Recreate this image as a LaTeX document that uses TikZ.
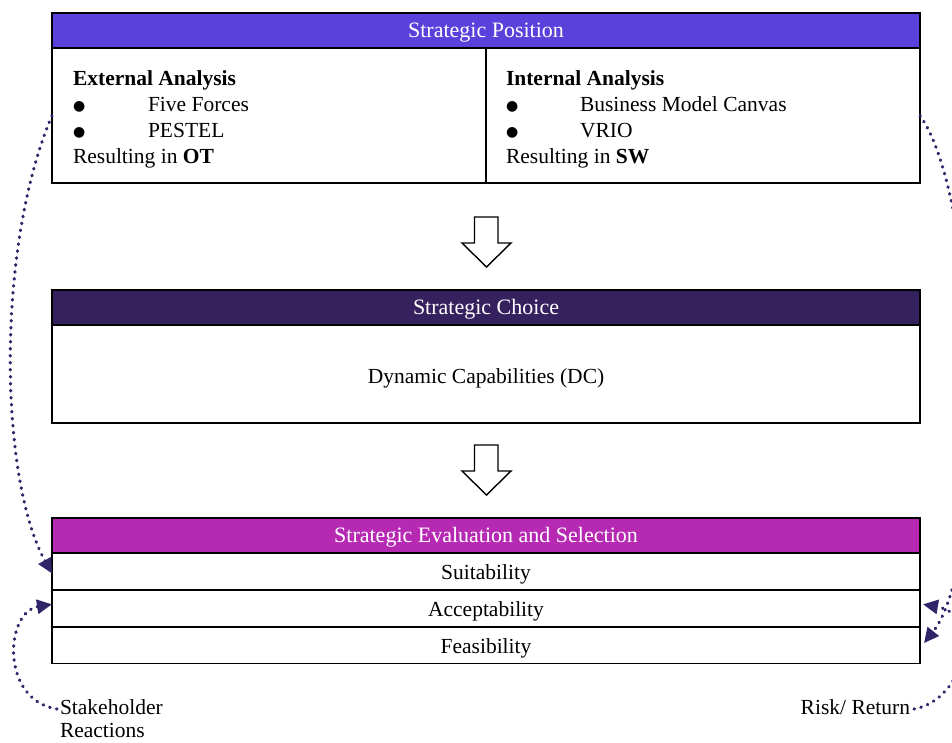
\documentclass[tikz,border=0pt]{standalone}
\usepackage{fontspec}
\setmainfont{Liberation Serif}
\newfontfamily\symfont{DejaVu Sans}
\usetikzlibrary{arrows.meta}
\definecolor{posHeadCol}{HTML}{5B41DC}
\definecolor{choiceHeadCol}{HTML}{35215E}
\definecolor{evalHeadCol}{HTML}{B629B3}
\definecolor{linkCol}{HTML}{2F2568}
\newcommand{\bigbullet}{\raisebox{1pt}{\symfont\fontsize{14}{26}\selectfont ●}}
\begin{document}
\begin{tikzpicture}[x=1pt,y=-1pt,
  every node/.style={font=\fontsize{21.5}{26}\selectfont, inner sep=0pt, outer sep=0pt},
  head/.style={draw=black, line width=1.6pt, minimum width=868pt, minimum height=35pt},
  headtext/.style={text=white, font=\fontsize{22}{26}\selectfont, yshift=-2pt},
  body/.style={draw=black, line width=1.6pt, fill=white},
  rowbox/.style={body, minimum width=868pt, minimum height=36.8pt},
  rowtext/.style={yshift=-3pt},
  line/.style={anchor=base west},
  hollow/.style={draw=black, line width=1.4pt, fill=white, line join=miter},
  link/.style={draw=linkCol, line width=3.2pt, line cap=round, dash pattern=on 0.6pt off 6.4pt,
    -{Triangle[length=15pt,width=14pt,fill=linkCol]}}
]
\useasboundingbox (0,0) rectangle (952,742);
\clip (0,0) rectangle (952,742);

% Strategic Position block
\node[head, fill=posHeadCol] (posHead) at (486,30.5) {};
\node[headtext] at (posHead.center) {Strategic Position};
\node[body, minimum width=434pt, minimum height=135pt] (ext) at (269,115.5) {};
\node[body, minimum width=434pt, minimum height=135pt] (int) at (703,115.5) {};

\node[line] (extTitle) at (73,85) {\textbf{External Analysis}};
\node[line] (extB1) at (73,111) {\bigbullet};
\node[line] (extT1) at (148,111) {Five Forces};
\node[line] (extB2) at (73,137) {\bigbullet};
\node[line] (extT2) at (148,137) {PESTEL};
\node[line] (extRes) at (73,163) {Resulting in \textbf{OT}};

\node[line] (intTitle) at (506,85) {\textbf{Internal Analysis}};
\node[line] (intB1) at (506,111) {\bigbullet};
\node[line] (intT1) at (580,111) {Business Model Canvas};
\node[line] (intB2) at (506,137) {\bigbullet};
\node[line] (intT2) at (580,137) {VRIO};
\node[line] (intRes) at (506,163) {Resulting in \textbf{SW}};

% Strategic Choice block
\node[head, fill=choiceHeadCol] (choiceHead) at (486,307.5) {};
\node[headtext] at (choiceHead.center) {Strategic Choice};
\node[body, minimum width=868pt, minimum height=98pt] (choiceBody) at (486,374) {};
\node (dc) at (486,378) {Dynamic Capabilities (DC)};

% Strategic Evaluation block
\node[head, fill=evalHeadCol] (evalHead) at (486,535.5) {};
\node[headtext] at (evalHead.center) {Strategic Evaluation and Selection};
\node[rowbox] (suit) at (486,571.5) {};
\node[rowtext] at (suit.center) {Suitability};
\node[rowbox] (accept) at (486,608.3) {};
\node[rowtext] at (accept.center) {Acceptability};
\node[rowbox] (feas) at (486,645.1) {};
\node[rowtext] at (feas.center) {Feasibility};

% hollow flow arrows between the blocks
\draw[hollow] (474.5,217) -- (498,217) -- (498,243) -- (511,243) -- (486.5,267)
  -- (462,243) -- (474.5,243) -- cycle;
\draw[hollow] (474.5,445) -- (498,445) -- (498,471) -- (511,471) -- (486.5,495)
  -- (462,471) -- (474.5,471) -- cycle;

% side labels
\node[anchor=base west] (stake) at (60,714) {Stakeholder};
\node[anchor=base west] (stake2) at (60,737.5) {Reactions};
\node[anchor=base east] (risk) at (910,714) {Risk/ Return};

% dotted feedback links
\path[link] (ext.west) .. controls (-5,250) and (0,480) .. ([yshift=-2pt]suit.west);
\path[link] ([xshift=-3pt]stake.west |- 0,709) .. controls (0,700) and (5,612) .. ([yshift=4pt]accept.west);
\path[link] (int.east) .. controls (980,200) and (990,560) .. ([xshift=4pt,yshift=2pt]feas.east);
\path[link] ([xshift=4pt]risk.east |- 0,709) .. controls (965,700) and (985,615) .. ([xshift=3pt,yshift=4pt]accept.east);
\end{tikzpicture}
\end{document}
